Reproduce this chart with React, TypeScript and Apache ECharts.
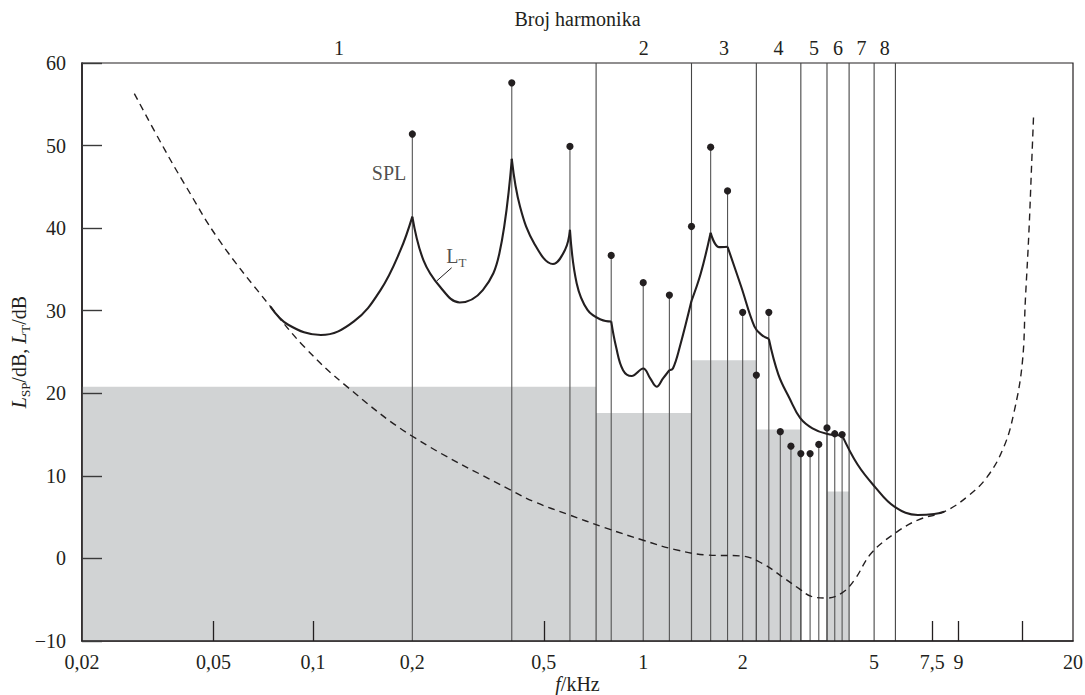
import React, { useEffect, useRef } from 'react';
import * as echarts from 'echarts';

const FONT = "'Liberation Serif', 'Times New Roman', serif";
const INK = '#231f20';

// axis ranges
const X_MIN = 0.02;
const X_MAX = 20;
const Y_MIN = -10;
const Y_MAX = 60;
const Y_STEP = 10;

// frequency axis labels / inner ticks (kHz)
const xLabelValues = [0.02, 0.05, 0.1, 0.2, 0.5, 1, 2, 5, 7.5, 9, 20];
const xTickValues = [0.05, 0.1, 0.5, 7.5, 9, 14];

// harmonics (kHz) and their SPL (dB)
const harmonicFreqs = [0.2, 0.4, 0.6, 0.8, 1.0, 1.2, 1.4, 1.6, 1.8, 2.0, 2.2, 2.4, 2.6, 2.8, 3.0, 3.2, 3.4, 3.6, 3.8, 4.0];
const harmonicSPL = [51.4, 57.6, 49.9, 36.7, 33.4, 31.9, 40.2, 49.8, 44.5, 29.8, 22.2, 29.8, 15.35, 13.6, 12.7, 12.7, 13.8, 15.8, 15.1, 15.0];

// critical bands: edges (kHz), numbers, grey masking level per band (dB)
const bandEdges = [0.02, 0.72, 1.4, 2.2, 3.0, 3.6, 4.2, 5.0, 5.8];
const bandNumbers = ['1', '2', '3', '4', '5', '6', '7', '8'];
const bandMaskLevel: (number | null)[] = [20.8, 17.6, 24.0, 15.6, null, 8.1, null, null];

// masking threshold L_T
const ltFreq = [0.0744, 0.0842, 0.1057, 0.1331, 0.1602, 0.184, 0.2, 0.2162, 0.2426, 0.2782, 0.3269, 0.3667, 0.4,
  0.4238, 0.4699, 0.533, 0.5802, 0.6, 0.629, 0.678, 0.7468, 0.8, 0.8277, 0.8689, 0.9225, 1.0, 1.05, 1.098, 1.148, 1.2,
  1.23, 1.29, 1.4, 1.493, 1.6, 1.698, 1.8, 1.98, 2.17, 2.277, 2.4, 2.564, 2.772, 2.988, 3.253, 3.59, 4.0, 4.45, 5.02,
  5.76, 6.78, 7.6, 8.15];
const ltLevel = [30.5, 28.3, 27.05, 28.7, 32.5, 37.3, 41.4, 36.1, 32.9, 31.0, 32.5, 36.9, 48.4,
  42.6, 38.0, 35.65, 37.4, 39.8, 33.3, 30.1, 28.9, 28.7, 25.6, 22.8, 22.1, 23.0, 21.8, 20.8, 21.8, 22.8,
  23.0, 25.6, 31.2, 34.5, 39.45, 37.7, 37.75, 32.9, 28.1, 27.1, 26.6, 22.3, 19.4, 17.0, 15.76, 15.1, 14.9, 11.4, 8.7,
  6.27, 5.26, 5.38, 5.66];
const ltCusps = [0.2, 0.4, 0.6, 0.8, 1.2, 1.4, 1.6, 1.8, 2.4, 4.0];

// absolute threshold of hearing (dashed)
const athFreq = [0.0288, 0.0356, 0.0408, 0.0519, 0.0744, 0.0943, 0.126, 0.2, 0.4, 0.472, 0.59, 0.763, 1.0, 1.24, 1.556,
  1.98, 2.29, 2.63, 2.95, 3.23, 3.59, 3.99, 4.36, 4.9, 5.76, 6.78, 8.15, 9.59, 11.01, 12.35, 13.24, 14.04, 14.35, 14.7,
  14.98, 15.2];
const athLevel = [56.3, 49.5, 45.4, 38.6, 30.5, 25.6, 20.9, 14.8, 8.2, 6.8, 5.35, 3.74, 2.2, 1.1, 0.42,
  0.3, -0.59, -2.2, -3.6, -4.6, -4.8, -4.2, -2.6, 0.62, 3.0, 4.65, 5.66, 7.5, 9.9, 13.5, 17.6, 23.6, 31.3, 39.3,
  47.4, 53.8];

// annotations
const splLabel = { f: 0.17, v: 46.7, text: 'SPL' };
const ltLabel = { f: 0.272, v: 36.6 };
const ltLeader = [[0.263, 35.2], [0.237, 33.6]];

const lx = (f: number) => Math.log10(f);
const nearestIndex = (arr: number[], v: number) => {
  let best = 0;
  arr.forEach((a, i) => { if (Math.abs(a - v) < Math.abs(arr[best] - v)) best = i; });
  return best;
};
const fmtNum = (v: number) => String(v).replace('.', ',');

function buildOption() {
  const xLabelLog = xLabelValues.map(lx);
  const bandMid = bandNumbers.map((_, i) => Math.sqrt(bandEdges[i] * bandEdges[i + 1]));
  const bandMidLog = bandMid.map(lx);

  const maskData = bandMaskLevel
    .map((lvl, i) => (lvl == null ? null : [lx(bandEdges[i]), lx(bandEdges[i + 1]), lvl]))
    .filter((d) => d !== null);

  const bandLineData = bandEdges.slice(1).map((f) => [lx(f), Y_MAX]);
  const stemData = harmonicFreqs.map((f, i) => [lx(f), harmonicSPL[i]]);

  // split L_T into smooth pieces between cusps
  const ltSegments: number[][][] = [];
  let cur: number[][] = [];
  ltFreq.forEach((f, i) => {
    const p = [lx(f), ltLevel[i]];
    cur.push(p);
    if (ltCusps.includes(f)) {
      ltSegments.push(cur);
      cur = [p];
    }
  });
  if (cur.length > 1) ltSegments.push(cur);

  const ltSeries = ltSegments.map((seg) => ({
    type: 'line',
    data: seg,
    smooth: 0.4,
    showSymbol: false,
    symbol: 'none',
    z: 6,
    lineStyle: { color: INK, width: 2.1 },
    silent: true,
  }));

  const baseText = { fontFamily: FONT, color: INK };

  return {
    animation: false,
    backgroundColor: '#ffffff',
    textStyle: { fontFamily: FONT, color: INK },
    grid: {
      left: 82,
      right: 12,
      top: 63,
      bottom: 54,
      containLabel: false,
      outerBoundsMode: 'none',
      show: true,
      borderColor: INK,
      borderWidth: 1.2,
      backgroundColor: 'transparent',
    },
    xAxis: [
      {
        type: 'value',
        min: lx(X_MIN),
        max: lx(X_MAX),
        position: 'bottom',
        z: 10,
        axisLine: { show: true, onZero: false, lineStyle: { color: INK, width: 1.6 } },
        axisTick: {
          show: true,
          inside: true,
          length: 20,
          customValues: xTickValues.map(lx),
          lineStyle: { color: INK, width: 1.3 },
        },
        axisLabel: {
          show: true,
          customValues: xLabelLog,
          margin: 11,
          fontSize: 20,
          fontFamily: FONT,
          color: INK,
          formatter: (v: number) => fmtNum(xLabelValues[nearestIndex(xLabelLog, v)]),
        },
        splitLine: { show: false },
        name: '{i|f}{n|/kHz}',
        nameLocation: 'middle',
        nameGap: 33,
        nameMoveOverlap: false,
        nameTextStyle: {
          ...baseText,
          fontSize: 20,
          lineHeight: 20,
          rich: {
            i: { ...baseText, fontSize: 20, lineHeight: 20, fontStyle: 'italic' },
            n: { ...baseText, fontSize: 20, lineHeight: 20 },
          },
        },
      },
      {
        type: 'value',
        min: lx(X_MIN),
        max: lx(X_MAX),
        position: 'top',
        z: 10,
        axisLine: { show: false },
        axisTick: { show: false },
        axisLabel: {
          show: true,
          customValues: bandMidLog,
          margin: 5,
          fontSize: 20,
          fontFamily: FONT,
          color: INK,
          formatter: (v: number) => bandNumbers[nearestIndex(bandMidLog, v)],
        },
        splitLine: { show: false },
        name: 'Broj harmonika',
        nameLocation: 'middle',
        nameGap: 34,
        nameMoveOverlap: false,
        nameTextStyle: { ...baseText, fontSize: 20 },
      },
    ],
    yAxis: {
      type: 'value',
      min: Y_MIN,
      max: Y_MAX,
      interval: Y_STEP,
      z: 10,
      axisLine: { show: true, onZero: false, lineStyle: { color: INK, width: 1.6 } },
      axisTick: { show: true, inside: true, length: 20, lineStyle: { color: '#3a3a3a', width: 1.4 } },
      axisLabel: {
        margin: 16,
        fontSize: 20,
        fontFamily: FONT,
        color: INK,
        formatter: (v: number) => (v < 0 ? '\u2212' + Math.abs(v) : String(v)),
      },
      splitLine: { show: false },
      name: '{i|L}{s|SP}{n|/dB, }{i|L}{s|T}{n|/dB}',
      nameLocation: 'middle',
      nameRotate: 90,
      nameGap: 50,
      nameMoveOverlap: false,
      nameTextStyle: {
        ...baseText,
        fontSize: 20,
        rich: {
          i: { ...baseText, fontSize: 20, fontStyle: 'italic', lineHeight: 26 },
          n: { ...baseText, fontSize: 20, lineHeight: 26 },
          s: { ...baseText, fontSize: 13, lineHeight: 13, verticalAlign: 'bottom' },
        },
      },
    },
    series: [
      {
        type: 'custom',
        name: 'mask',
        xAxisIndex: 0,
        z: 1,
        silent: true,
        encode: { x: [0, 1], y: 2 },
        data: maskData,
        renderItem: (params: any, api: any) => {
          const p0 = api.coord([api.value(0), api.value(2)]);
          const p1 = api.coord([api.value(1), Y_MIN]);
          return {
            type: 'rect',
            shape: { x: p0[0], y: p0[1], width: p1[0] - p0[0], height: p1[1] - p0[1] },
            style: { fill: '#d1d3d4' },
          };
        },
      },
      {
        type: 'custom',
        name: 'bands',
        z: 2,
        silent: true,
        encode: { x: 0, y: 1 },
        data: bandLineData,
        renderItem: (params: any, api: any) => {
          const top = api.coord([api.value(0), Y_MAX]);
          const bot = api.coord([api.value(0), Y_MIN]);
          return {
            type: 'line',
            shape: { x1: top[0], y1: top[1], x2: bot[0], y2: bot[1] },
            style: { stroke: '#454545', lineWidth: 1.1 },
          };
        },
      },
      {
        type: 'custom',
        name: 'SPL',
        z: 3,
        silent: true,
        encode: { x: 0, y: 1 },
        data: stemData,
        renderItem: (params: any, api: any) => {
          const top = api.coord([api.value(0), api.value(1)]);
          const bot = api.coord([api.value(0), Y_MIN]);
          return {
            type: 'group',
            children: [
              {
                type: 'line',
                shape: { x1: top[0], y1: top[1], x2: bot[0], y2: bot[1] },
                style: { stroke: '#555555', lineWidth: 1.1 },
              },
              {
                type: 'circle',
                z2: 5,
                shape: { cx: top[0], cy: top[1], r: 3.6 },
                style: { fill: INK },
              },
            ],
          };
        },
      },
      {
        type: 'line',
        name: 'ATH',
        z: 5,
        silent: true,
        data: athFreq.map((f, i) => [lx(f), athLevel[i]]),
        smooth: 0.4,
        showSymbol: false,
        symbol: 'none',
        lineStyle: { color: INK, width: 1.4, type: [7, 5] },
      },
      ...ltSeries,
      {
        type: 'line',
        name: 'leader',
        z: 7,
        silent: true,
        data: ltLeader.map((p) => [lx(p[0]), p[1]]),
        showSymbol: false,
        symbol: 'none',
        lineStyle: { color: INK, width: 1 },
      },
      {
        type: 'scatter',
        name: 'labels',
        z: 8,
        silent: true,
        symbolSize: 0,
        data: [
          { value: [lx(splLabel.f), splLabel.v], label: { formatter: splLabel.text } },
          { value: [lx(ltLabel.f), ltLabel.v], label: { formatter: '{a|L}{b|T}' } },
        ],
        label: {
          show: true,
          position: 'inside',
          fontSize: 20,
          fontFamily: FONT,
          color: INK,
          rich: {
            a: { fontFamily: FONT, color: INK, fontSize: 20, lineHeight: 26 },
            b: { fontFamily: FONT, color: INK, fontSize: 13, lineHeight: 13, verticalAlign: 'bottom' },
          },
        },
      },
    ],
  };
}

export default function App() {
  const ref = useRef<HTMLDivElement>(null);
  useEffect(() => {
    if (!ref.current) return;
    const chart = echarts.init(ref.current, undefined, { renderer: 'svg' });
    chart.setOption(buildOption() as any);
    return () => chart.dispose();
  }, []);
  return (
    <div
      ref={ref}
      style={{ position: 'fixed', left: 0, top: 0, width: 1085, height: 695, background: '#ffffff' }}
    />
  );
}
